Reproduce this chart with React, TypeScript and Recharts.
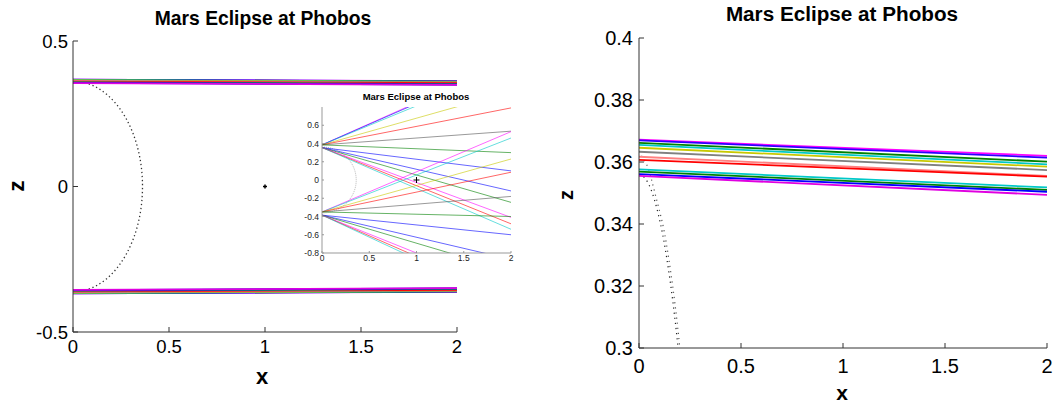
import { ComposedChart, Line, Scatter, XAxis, YAxis } from "recharts";

// shadow-edge rays: z at x = 0 and at x = 2 (north limb, close-up values)
const rayX = [0, 2];
const northZ0 = [0.3672, 0.367, 0.3662, 0.3655, 0.3646, 0.3633, 0.3617, 0.3607, 0.3576, 0.3569, 0.3561, 0.3555];
const northZ2 = [0.362, 0.3614, 0.3601, 0.35925, 0.3585, 0.3574, 0.3555, 0.3553, 0.3518, 0.351, 0.3504, 0.3494];
const southZ0 = [-0.3672, -0.367, -0.3662, -0.3655, -0.3646, -0.3633, -0.3617, -0.3607, -0.3576, -0.3569, -0.3561, -0.3555];
const southZ2 = [-0.362, -0.3614, -0.3601, -0.35925, -0.3585, -0.3574, -0.3555, -0.3553, -0.3518, -0.351, -0.3504, -0.3494];
const rayColors = ["#ff00ff", "#2a00ff", "#008000", "#00c8c8", "#c8c800", "#808080", "#ff8080", "#ff0000", "#00c8c8", "#008000", "#0000ff", "#e000e0"];

// inset (older run): wider fan of rays
const insetZ0 = [0.385, 0.385, 0.385, 0.385, 0.385, 0.385, 0.385, 0.355, 0.355, 0.355, 0.355, 0.355, 0.355, -0.35, -0.35, -0.35, -0.35, -0.35, -0.35, -0.385, -0.385, -0.385, -0.385, -0.385, -0.385];
const insetZ2 = [1.31, 1.29, 1.24, 0.97, 0.79, 0.535, 0.3, 0.1, -0.12, -0.245, -0.41, -0.48, -0.54, 0.53, 0.46, 0.23, 0.085, -0.18, -0.4, -0.6, -0.87, -1.0, -1.215, -1.29, -1.35];
const insetColors = ["#ff00ff", "#0000ff", "#00c8c8", "#c8c800", "#ff0000", "#555555", "#008000", "#0000ff", "#0000ff", "#008000", "#ff00ff", "#ff0000", "#00c8c8", "#ff00ff", "#00c8c8", "#c8c800", "#ff0000", "#555555", "#008000", "#0000ff", "#0000ff", "#008000", "#ff00ff", "#ff0000", "#00c8c8"];

// Mars limb, dotted
const limbX = [0, 0.0629, 0.1238, 0.181, 0.2327, 0.2773, 0.3135, 0.3402, 0.3565, 0.362, 0.3565, 0.3402, 0.3135, 0.2773, 0.2327, 0.181, 0.1238, 0.0629, 0];
const limbZ = [0.362, 0.3565, 0.3402, 0.3135, 0.2773, 0.2327, 0.181, 0.1238, 0.0629, 0, -0.0629, -0.1238, -0.181, -0.2327, -0.2773, -0.3135, -0.3402, -0.3565, -0.362];
const limbNearX = [0, 0.0267, 0.0651, 0.1055, 0.1336, 0.156, 0.175, 0.1917, 0.207];
const limbNearZ = [0.356, 0.355, 0.35, 0.34, 0.33, 0.32, 0.31, 0.3, 0.289];
const limbNear2X = [0.012, 0.045, 0.078, 0.116, 0.143, 0.165, 0.184, 0.2, 0.214];
const limbNear2Z = [0.362, 0.358, 0.35, 0.34, 0.33, 0.32, 0.31, 0.3, 0.289];

const phobos = [{ x: 1, z: 0 }];

const xTicks = [0, 0.5, 1, 1.5, 2];
const mainZTicks = [-0.5, 0, 0.5];
const nearZTicks = [0.3, 0.32, 0.34, 0.36, 0.38, 0.4];
const insetZTicks = [-0.8, -0.6, -0.4, -0.2, 0, 0.2, 0.4, 0.6];

const FONT = "Arial, 'Liberation Sans', Helvetica, sans-serif";

const pts = (xs: number[], zs: number[]) => xs.map((x, i) => ({ x, z: zs[i] }));
const rays = (z0: number[], z2: number[]) =>
  z0.map((a, i) => [
    { x: rayX[0], z: a },
    { x: rayX[1], z: z2[i] },
  ]);

function rayLines(z0: number[], z2: number[], colors: string[], width: number, key: string, opacity = 1) {
  return rays(z0, z2).map((d, i) => (
    <Line
      key={`${key}-${i}`}
      data={d}
      dataKey="z"
      type="linear"
      stroke={colors[i]}
      strokeWidth={width}
      strokeOpacity={opacity}
      dot={false}
      activeDot={false}
      legendType="none"
      isAnimationActive={false}
    />
  ));
}

function limbLine(xs: number[], zs: number[], key: string, color: string, dash: string, width = 1) {
  return (
    <Line
      key={key}
      data={pts(xs, zs)}
      dataKey="z"
      type="natural"
      stroke={color}
      strokeWidth={width}
      strokeDasharray={dash}
      dot={false}
      activeDot={false}
      legendType="none"
      isAnimationActive={false}
    />
  );
}

function boxAxes(color: string, zDomain: number[], zTicks: number[], tickIn: number) {
  return [
    <XAxis key="xt" xAxisId="t" orientation="top" type="number" domain={[0, 2]} ticks={xTicks} height={0} tickSize={-tickIn} tick={false} stroke={color} />,
    <YAxis key="yr" yAxisId="r" orientation="right" type="number" domain={zDomain} ticks={zTicks} width={0} tickSize={-tickIn} tick={false} stroke={color} />,
  ];
}

const plusShape = (size: number, w: number) => (p: any) => (
  <g>
    <line x1={p.cx - size} x2={p.cx + size} y1={p.cy} y2={p.cy} stroke="#000" strokeWidth={w} />
    <line x1={p.cx} x2={p.cx} y1={p.cy - size} y2={p.cy + size} stroke="#000" strokeWidth={w} />
  </g>
);

export default function App() {
  const tickMain = { fill: "#000", fontSize: 18.5, fontFamily: FONT };
  const tickNear = { fill: "#000", fontSize: 20, fontFamily: FONT };
  const tickInset = { fill: "#222", fontSize: 8.5, fontFamily: FONT };

  return (
    <div style={{ position: "absolute", left: 0, top: 0, width: 1053, height: 407, background: "#fff", overflow: "hidden" }}>
      {/* left: full view */}
      <div style={{ position: "absolute", left: 0, top: 0 }}>
        <ComposedChart width={470} height={407} margin={{ top: 41, right: 13, bottom: 0, left: 0 }}>
          <XAxis dataKey="x" type="number" domain={[0, 2]} ticks={xTicks} interval={0} allowDataOverflow height={75} tickSize={-5} tickMargin={13} stroke="#333" tick={tickMain} />
          <YAxis dataKey="z" type="number" domain={[-0.5, 0.5]} ticks={mainZTicks} interval={0} allowDataOverflow width={73} tickSize={-5} tickMargin={10} stroke="#333" tick={tickMain} />
          {boxAxes("#333", [-0.5, 0.5], mainZTicks, 5)}
          {limbLine(limbX, limbZ, "limb", "#333", "1.3 2.7", 1.3)}
          {rayLines(northZ0, northZ2, rayColors, 1.8, "n")}
          {rayLines(southZ0, southZ2, rayColors, 1.8, "s")}
          <Scatter data={phobos} dataKey="z" shape={plusShape(2, 1.5)} legendType="none" isAnimationActive={false} />
        </ComposedChart>
      </div>

      {/* inset */}
      <div style={{ position: "absolute", left: 296, top: 86, width: 222, height: 198, background: "#fff" }}>
        <ComposedChart width={222} height={198} margin={{ top: 21, right: 7, bottom: 0, left: 0 }}>
          <XAxis dataKey="x" type="number" domain={[0, 2]} ticks={xTicks} interval={0} allowDataOverflow height={31} tickSize={-2} tickMargin={4} stroke="#999" tick={tickInset} />
          <YAxis dataKey="z" type="number" domain={[-0.8, 0.8]} ticks={insetZTicks} interval={0} allowDataOverflow width={26} tickSize={-2} tickMargin={5} stroke="#999" tick={tickInset} />
          {boxAxes("#999", [-0.8, 0.8], insetZTicks, 2)}
          {limbLine(limbX, limbZ, "ilimb", "#bbb", "1 1")}
          {rayLines(insetZ0, insetZ2, insetColors, 1, "i", 0.6)}
          <Scatter data={phobos} dataKey="z" shape={plusShape(3, 1)} legendType="none" isAnimationActive={false} />
        </ComposedChart>
      </div>

      {/* right: close-up of the north shadow edge */}
      <div style={{ position: "absolute", left: 560, top: 0 }}>
        <ComposedChart width={493} height={407} margin={{ top: 38, right: 6, bottom: 0, left: 0 }}>
          <XAxis dataKey="x" type="number" domain={[0, 2]} ticks={xTicks} interval={0} allowDataOverflow height={59} tickSize={-5} tickMargin={16} stroke="#333" tick={tickNear} />
          <YAxis dataKey="z" type="number" domain={[0.3, 0.4]} ticks={nearZTicks} interval={0} allowDataOverflow width={79} tickSize={-5} tickMargin={11} stroke="#333" tick={tickNear} />
          {boxAxes("#333", [0.3, 0.4], nearZTicks, 5)}
          {limbLine(limbNearX, limbNearZ, "nl1", "#222", "1.2 4", 1.2)}
          {limbLine(limbNear2X, limbNear2Z, "nl2", "#555", "1.2 4", 1.2)}
          {rayLines(northZ0, northZ2, rayColors, 1.8, "r")}
        </ComposedChart>
      </div>

      <svg width={1053} height={407} style={{ position: "absolute", left: 0, top: 0, pointerEvents: "none" }} fontFamily={FONT}>
        <text x={263} y={25} textAnchor="middle" fontSize={19.3} fontWeight="bold">Mars Eclipse at Phobos</text>
        <text x={416} y={99.5} textAnchor="middle" fontSize={9.5} fontWeight="bold">Mars Eclipse at Phobos</text>
        <text x={842} y={21} textAnchor="middle" fontSize={20.7} fontWeight="bold">Mars Eclipse at Phobos</text>
        <text x={262} y={384} textAnchor="middle" fontSize={22} fontWeight="bold">x</text>
        <text x={842} y={400} textAnchor="middle" fontSize={21} fontWeight="bold">x</text>
        <text x={24} y={186} textAnchor="middle" fontSize={22} fontWeight="bold" transform="rotate(-90 24 186)">z</text>
        <text x={573} y={195} textAnchor="middle" fontSize={20} fontWeight="bold" transform="rotate(-90 573 195)">z</text>
      </svg>
    </div>
  );
}
